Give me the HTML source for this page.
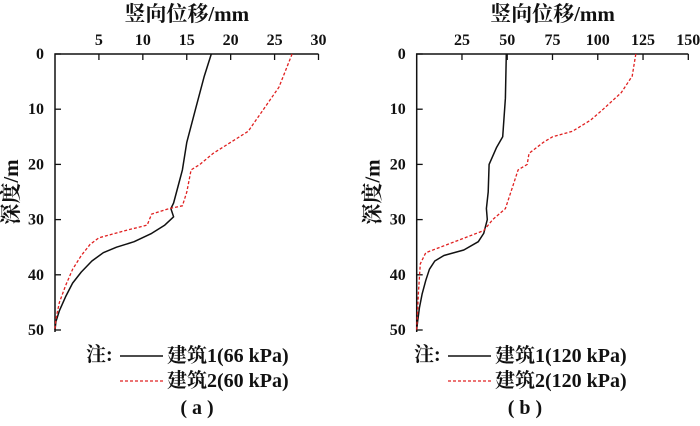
<!DOCTYPE html>
<html><head><meta charset="utf-8"><style>
body{margin:0;background:#fff}
svg text{font-family:"Liberation Serif","Noto Serif CJK SC",serif;fill:#111;font-weight:bold}
</style></head><body>
<svg width="700" height="421" xmlns="http://www.w3.org/2000/svg">
<g id="gA"></g>
<g id="gB"></g>
</svg>
<script>
const aTicks=[5,10,15,20,25,30];
const bTicks=[25,50,75,100,125,150];
const yTicks=[0,10,20,30,40,50];
const a1x=[17.8,17,16,15,14.5,14,13.5,13.2,13.5,12.5,11,9,7,5.5,4.2,3,2,1.2,0.5,0.1,0];
const a1y=[0,4,10,16,21,24,27,28,29.5,31,32.5,34,35,36,37.5,39.5,41.5,44,46.5,48.5,50];
const a2x=[27,25.5,22,20,18,16.5,15.5,15,14.5,13,11,10.5,8,5,4,3,2,1.2,0.5,0.1,0];
const a2y=[0,6,14,16,18,20,21,25,27.5,28,29,31,32,33.3,34.5,36.5,39,42,45,48,50];
const b1x=[49.5,49,47.5,44,40,39.5,38.5,39,37,34,26,15,10,7,5,3,1.5,0.5,0];
const b1y=[0,8,15,17,20,25,28,30,32.5,34,35.5,36.5,37.5,39,41,43.5,46,48.5,50];
const b2x=[121,119,113,103,96,86,75,70,62,61,56,53,49,42,37,25,5,2,1,0];
const b2y=[0,4,7,10,12,14,15,16,18,20,21,24,28,30,32,33.5,36,38,43,50];
const NS="http://www.w3.org/2000/svg";
function mk(p,t,at,txt){const e=document.createElementNS(NS,t);for(const k in at)e.setAttribute(k,at[k]);if(txt!==undefined)e.textContent=txt;p.appendChild(e);return e;}
function panel(g,x0,x1,xmax,ticks,s1x,s1y,s2x,s2y,leg1,leg2,lab,legX){
  const y0=54,y1=330;
  const sx=v=>x0+(x1-x0)*v/xmax, sy=v=>y0+(y1-y0)*v/50;
  let t=mk(g,'text',{x:(x0+x1)/2,y:21,'text-anchor':'middle','font-size':21},'竖向位移/mm');
  
  t=mk(g,'text',{x:0,y:0,'text-anchor':'middle','font-size':21,transform:`translate(${x0-37},${(y0+y1)/2}) rotate(-90)`},'深度/m');
  
  let ax=mk(g,'path',{d:`M${x0},${y1+2}V${y0}H${x1}`,fill:'none',stroke:'#111','stroke-width':1.5});
  
  ticks.forEach(v=>{mk(g,'line',{x1:sx(v),x2:sx(v),y1:y0,y2:y0+6,stroke:'#111','stroke-width':1.3});
    const l=mk(g,'text',{x:sx(v),y:y0-9,'text-anchor':'middle','font-size':16},String(v));
    });
  yTicks.forEach(v=>{mk(g,'line',{x1:x0,x2:x0+6,y1:sy(v),y2:sy(v),stroke:'#111','stroke-width':1.3});
    const l=mk(g,'text',{x:x0-11,y:sy(v)+5,'text-anchor':'end','font-size':16},String(v));
    });
  const pts=(xs,ys)=>xs.map((v,i)=>sx(v).toFixed(1)+','+sy(ys[i]).toFixed(1)).join(' ');
  let p=mk(g,'polyline',{points:pts(s1x,s1y),fill:'none',stroke:'#111','stroke-width':1.5,'stroke-linejoin':'round'});
  
  p=mk(g,'polyline',{points:pts(s2x,s2y),fill:'none',stroke:'#e02020','stroke-width':1.3,'stroke-dasharray':'3,2'});
  
  t=mk(g,'text',{x:legX,y:361,'font-size':20},'注:');
  
  mk(g,'line',{x1:legX+34,x2:legX+77,y1:356,y2:356,stroke:'#111','stroke-width':1.5});
  t=mk(g,'text',{x:legX+81,y:362,'font-size':20},leg1);
  
  mk(g,'line',{x1:legX+34,x2:legX+77,y1:381,y2:381,stroke:'#e02020','stroke-width':1.3,'stroke-dasharray':'3,2'});
  t=mk(g,'text',{x:legX+81,y:387,'font-size':20},leg2);
  
  t=mk(g,'text',{x:legX+111,y:414,'text-anchor':'middle','font-size':20},lab);
  
}
panel(document.getElementById('gA'),55,318.5,30,aTicks,a1x,a1y,a2x,a2y,'建筑1(66 kPa)','建筑2(60 kPa)','( a )',86);
panel(document.getElementById('gB'),416.7,688.3,150,bTicks,b1x,b1y,b2x,b2y,'建筑1(120 kPa)','建筑2(120 kPa)','( b )',414);
</script>
</body></html>
